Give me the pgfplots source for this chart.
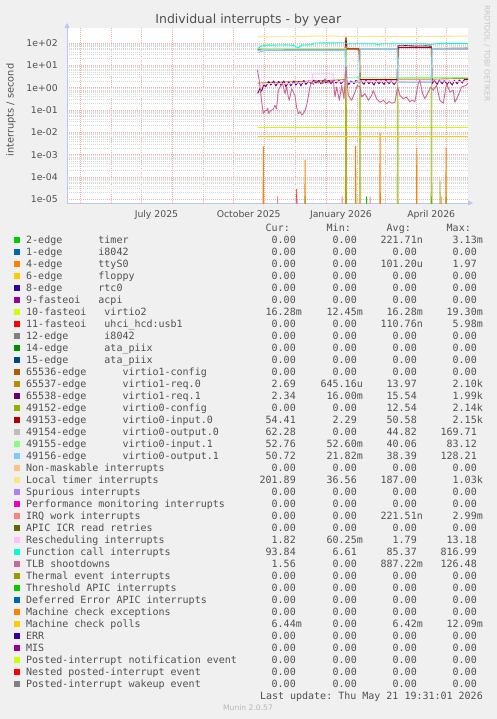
\documentclass[border=0pt]{standalone}
\usepackage{fontspec}
\setmainfont{DejaVu Sans}
\setmonofont{DejaVu Sans Mono}
\usepackage{pgfplots}
\pgfplotsset{compat=1.18}
\usetikzlibrary{arrows.meta}
\definecolor{bgc}{HTML}{F0F0F0}
\definecolor{txt}{HTML}{505050}
\definecolor{axc}{HTML}{B8C8F0}
\definecolor{mgrid}{HTML}{F2B0B0}
\definecolor{ngrid}{HTML}{D8D8D8}
\definecolor{c00CC00}{HTML}{00CC00}
\definecolor{c0066B3}{HTML}{0066B3}
\definecolor{cFF8000}{HTML}{FF8000}
\definecolor{cFFCC00}{HTML}{FFCC00}
\definecolor{c330099}{HTML}{330099}
\definecolor{c990099}{HTML}{990099}
\definecolor{cCCFF00}{HTML}{CCFF00}
\definecolor{cFF0000}{HTML}{FF0000}
\definecolor{c808080}{HTML}{808080}
\definecolor{c008F00}{HTML}{008F00}
\definecolor{c00487D}{HTML}{00487D}
\definecolor{cB35A00}{HTML}{B35A00}
\definecolor{cB38F00}{HTML}{B38F00}
\definecolor{c6B006B}{HTML}{6B006B}
\definecolor{c8FB300}{HTML}{8FB300}
\definecolor{cB30000}{HTML}{B30000}
\definecolor{cBEBEBE}{HTML}{BEBEBE}
\definecolor{c80FF80}{HTML}{80FF80}
\definecolor{c80C9FF}{HTML}{80C9FF}
\definecolor{cFFC080}{HTML}{FFC080}
\definecolor{cFFE680}{HTML}{FFE680}
\definecolor{cAA80FF}{HTML}{AA80FF}
\definecolor{cEE00CC}{HTML}{EE00CC}
\definecolor{cFF8080}{HTML}{FF8080}
\definecolor{c666600}{HTML}{666600}
\definecolor{cFFBFFF}{HTML}{FFBFFF}
\definecolor{c00FFCC}{HTML}{00FFCC}
\definecolor{cCC6699}{HTML}{CC6699}
\definecolor{c999900}{HTML}{999900}
\newcommand\lgf{\fontsize{10bp}{12bp}\ttfamily}
\newcommand\Z{\hphantom{0}}
\newcommand\zz{0.00\Z}
\newcommand\lrow[7]{%
  \pgfmathsetmacro\yc{-(239.7+12*#1)}%
  \pgfmathsetmacro\yb{\yc-3.6}%
  \fill[#2] (14,\yc-3) rectangle (20,\yc+3);
  \node[anchor=base west,inner sep=0,font=\lgf,text=txt] at (26,\yb) {#3};
  \node[anchor=base east,inner sep=0,font=\lgf,text=txt] at (302,\yb) {#4};
  \node[anchor=base east,inner sep=0,font=\lgf,text=txt] at (363,\yb) {#5};
  \node[anchor=base east,inner sep=0,font=\lgf,text=txt] at (423,\yb) {#6};
  \node[anchor=base east,inner sep=0,font=\lgf,text=txt] at (483,\yb) {#7};
}
\begin{document}
\begin{tikzpicture}
\begin{scope}[x=1bp,y=1bp]
\fill[bgc] (0,0) rectangle (497,-719);
\end{scope}
\begin{axis}[
  at={(67bp,-203bp)}, anchor=south west,
  scale only axis, width=401bp, height=175bp,
  xmin=-258.2, xmax=141.7,
  ymode=log, ymin=6.8e-6, ymax=470,
  axis background/.style={fill=white},
  axis x line=bottom, axis y line=left,
  axis line style={draw=axc, line width=0.8bp},
  x axis line style={-{Triangle[length=5bp,width=5bp]}, shorten >=-5bp},
  y axis line style={-{Triangle[length=5bp,width=5bp]}, shorten >=-5bp},
  xtick={-245,-214,-184,-153,-122,-92,-61,-31,0,31,59,90,120},
  xticklabels={},
  minor x tick num=2,
  extra x ticks={-169,-77,15,105},
  extra x tick labels={July 2025,October 2025,January 2026,April 2026},
  extra x tick style={grid=none, xticklabel style={anchor=base, yshift=-12bp}},
  ytick={1e-5,1e-4,1e-3,1e-2,1e-1,1,10,100},
  yticklabels={1e-05,1e-04,1e-03,1e-02,1e-01,1e+00,1e+01,1e+02},
  yticklabel style={anchor=east, inner sep=0pt, xshift=-7bp},
  tick label style={font=\fontsize{9.3bp}{11bp}\selectfont, text=txt},
  grid=both,
  major grid style={draw=mgrid, line width=0.5bp, dash pattern=on 1bp off 1bp},
  minor grid style={draw=ngrid, line width=0.5bp, dash pattern=on 1bp off 1bp},
  tick style={draw=none},
  every axis plot/.append style={line width=0.9bp, line join=round},
  no markers,
]
% 2-edge timer
\addplot[c00CC00] coordinates {(-21.4,1e-9) (-20.8,1.3e-5) (-20.2,1e-9) (39.9,1e-9) (40.5,1.3e-5) (41.1,1e-9) (104.7,1e-9) (105.3,1.3e-5) (105.9,1e-9) (119.2,1e-9) (119.8,1.3e-5) (120.4,1e-9)};
% 4-edge ttyS0
\addplot[cFF8000] coordinates {(-63,1e-9) (-62.4,2.26e-3) (-61.8,1e-9) (-21.4,1e-9) (-20.8,5.7e-4) (-20.2,1e-9) (19.4,1e-9) (20,1.97) (20.6,1e-9) (29.1,1e-9) (29.7,2.4e-3) (30.3,1e-9) (53.4,1e-9) (54,9e-3) (54.6,1e-9) (90,1e-9) (90.6,1.9e-3) (91.2,1e-9) (119.2,1e-9) (119.8,2.0e-3) (120.4,1e-9)};
% 10-fasteoi virtio2
\addplot[cCCFF00] coordinates {(-68,0.0163) (141.7,0.0163)};
% 11-fasteoi uhci
\addplot[cFF0000] coordinates {(-29.7,1e-9) (-29.1,2.8e-5) (-28.5,1e-9)};
% 65537 virtio1-req.0
\addplot[cB38F00] coordinates {(-68,1.6) (-40,1.8) (-10,2.0) (19,2.3) (20,52) (33,52) (34,2.3) (71,2.3) (72,2.4) (105,2.4) (141.7,2.6)};
% 65538 virtio1-req.1
\addplot[c6B006B] coordinates {(-68,0.55) (-66,0.9) (-64,0.7) (-62,1.4) (-60,1.1) (-57,1.9) (-55,1.3) (-52,2.0) (-50,1.2) (-47,1.9) (-45,1.3) (-42,2.0) (-40,1.1) (-37,1.8) (-35,1.2) (-32,2.0) (-30,1.3) (-27,1.9) (-25,1.2) (-22,2.1) (-20,1.4) (-17,2.0) (-15,1.5) (-12,2.2) (-10,1.6) (-7,2.1) (-5,1.5) (-2,2.2) (0,1.6) (3,2.1) (5,1.5) (8,2.2) (10,1.6) (13,2.1) (15,1.5) (18,2.0) (20,1.8) (23,1.4) (25,2.0) (28,1.5) (30,2.1) (33,1.6) (35,2.0) (38,1.4) (40,2.1) (43,1.5) (45,2.0) (48,1.3) (50,2.1) (53,1.5) (55,2.0) (58,1.4) (60,2.1) (63,1.5) (65,2.0) (68,1.4) (71,2.0) (72,75) (80,76) (90,73) (100,74) (105,72) (106,1.5) (108,2.1) (111,1.4) (113,2.2) (116,1.5) (118,2.1) (121,1.4) (123,2.0) (126,1.3) (128,2.1) (131,1.5) (133,2.2) (136,1.6) (138,2.3) (141.7,2.3)};
% 49152 virtio0-config
\addplot[c8FB300, line width=1.3bp, opacity=0.65] coordinates {(19.4,1e-9) (20,58) (20.6,1e-9) (33.4,1e-9) (34,58) (34.6,1e-9) (71,1e-9) (71.6,58) (72.2,1e-9) (104.7,1e-9) (105.3,58) (105.9,1e-9) (113.2,1e-9) (113.8,6.6e-5) (114.4,1e-9)};
% 49153 virtio0-input.0
\addplot[cB30000] coordinates {(-68,50) (19,50) (20,180) (21,56) (33,56) (34,2.3) (71,2.3) (72,62) (105,62) (106,54) (141.7,54)};
% 49154 virtio0-output.0
\addplot[cBEBEBE] coordinates {(-68,45) (-62,52) (19,53) (20,60) (33,60) (34,56) (71,56) (72,1.9) (105,1.9) (106,58) (141.7,62)};
% 49155 virtio0-input.1
\addplot[c80FF80] coordinates {(-68,55) (-62,58) (19,58) (20,2.8) (60,2.7) (100,2.9) (141.7,2.8)};
% 49156 virtio0-output.1
\addplot[c80C9FF] coordinates {(-68,38) (-60,46) (19,47) (20,1.7) (33,1.7) (34,52) (71,52) (72,1.7) (105,1.7) (106,51) (141.7,51)};
% Local timer interrupts
\addplot[cFFE680] coordinates {(-68,188) (-50,190) (-30,192) (-15,203) (10,204) (20,196) (60,197) (100,196) (125,199) (135,205) (141.7,204)};
% IRQ work interrupts
\addplot[cFF8080] coordinates {(-48.7,1e-9) (-48.1,1.3e-5) (-47.5,1e-9) (-29.7,1e-9) (-29.1,1.3e-5) (-28.5,1e-9) (15.5,1e-9) (16.1,1.3e-5) (16.7,1e-9) (43.4,1e-9) (44,1.3e-5) (44.6,1e-9) (114.9,1e-9) (115.5,1.3e-5) (116.1,1e-9)};
% Rescheduling interrupts
\addplot[cFFBFFF] coordinates {(-68,1.2) (-60,1.5) (-50,1.6) (-40,1.5) (-30,1.6) (-20,1.8) (-14,1.9) (-13,4.2) (7,4.2) (8,1.9) (20,1.8) (30,1.8) (50,1.9) (70,1.8) (90,1.9) (110,2.0) (141.7,1.8)};
% Function call interrupts
\addplot[c00FFCC] coordinates {(-68,56) (-65,72) (-60,80) (-40,82) (-32,80) (-30,66) (-27,64) (-24,80) (-14,84) (-12,100) (18,103) (22,92) (30,93) (50,92) (52,82) (55,93) (100,92) (104,84) (108,92) (125,97) (141.7,94)};
% TLB shootdowns
\addplot[cCC6699] coordinates {(-68.4,6.4) (-66.5,2.1) (-64.2,0.27) (-62.5,0.068) (-61,0.09) (-59.2,0.095) (-58,0.12) (-57,0.07) (-55.8,0.085) (-54,0.1) (-52.5,0.11) (-50.8,0.16) (-49.2,0.11) (-47.5,0.76) (-45.8,1.07) (-43.2,1.5) (-40.8,0.54) (-39.2,1.07) (-37.5,0.38) (-36.5,0.27) (-34.2,0.9) (-30.9,0.45) (-29.2,0.13) (-27.5,0.07) (-25.9,0.085) (-24,0.06) (-22.5,0.068) (-20.9,0.095) (-19.2,0.16) (-15.9,1.07) (-14.2,1.78) (-12.5,1.4) (-10.9,2.1) (-8,1.6) (-5.9,1.78) (-3,1.5) (-0.9,2.5) (2,1.6) (4.1,1.78) (7.4,2.1) (9.1,0.38) (10.7,1.07) (13.4,0.27) (15.7,1.26) (18.0,0.32) (20.0,9) (22.3,0.45) (25.6,0.27) (29.0,0.63) (31.3,1.26) (33.9,1.07) (35.6,0.38) (38.9,0.54) (42.3,0.27) (45.6,0.45) (47.2,0.76) (50.5,0.32) (53.9,0.22) (57.2,0.27) (60.5,0.19) (63,0.24) (65.5,0.2) (68.8,0.22) (71.5,1.07) (73.8,0.45) (77.1,0.32) (80.4,0.38) (83.7,0.23) (86,0.28) (88.7,0.23) (92.0,1.5) (93.7,2.1) (96.4,0.54) (98.7,0.32) (102.0,0.63) (104.7,1.07) (107.0,0.76) (110.3,1.26) (113.7,0.27) (117.0,0.2) (120.3,1.5) (123.7,0.63) (127.0,0.76) (128.6,0.22) (132.0,0.45) (135.3,1.07) (139.7,1.26) (141.7,1.56)};
% Machine check polls
\addplot[cFFCC00] coordinates {(-68,0.0064) (141.7,0.0064)};
\end{axis}
\begin{scope}[x=1bp,y=1bp]
\node[anchor=base,inner sep=0,font=\fontsize{12.5bp}{14bp}\selectfont,text=txt] at (248.3,-23.5) {Individual interrupts - by year};
\node[rotate=90,inner sep=0,font=\fontsize{9.8bp}{11bp}\selectfont,text=txt] at (11,-110) {interrupts / second};
\node[rotate=-90,inner sep=0,font=\fontsize{7.5bp}{9bp}\selectfont,text=black!22] at (487,-53.3) {RRDTOOL / TOBI OETIKER};
\node[inner sep=0,font=\fontsize{7.6bp}{9bp}\selectfont,text=black!28] at (248,-707.5) {Munin 2.0.57};
\node[anchor=base east,inner sep=0,font=\lgf,text=txt] at (290,-231.3) {Cur:};
\node[anchor=base east,inner sep=0,font=\lgf,text=txt] at (351,-231.3) {Min:};
\node[anchor=base east,inner sep=0,font=\lgf,text=txt] at (411,-231.3) {Avg:};
\node[anchor=base east,inner sep=0,font=\lgf,text=txt] at (471,-231.3) {Max:};
\lrow{0}{c00CC00}{2-edge~~~~~~timer}{\zz}{\zz}{221.71n}{3.13m}
\lrow{1}{c0066B3}{1-edge~~~~~~i8042}{\zz}{\zz}{\zz}{\zz}
\lrow{2}{cFF8000}{4-edge~~~~~~ttyS0}{\zz}{\zz}{101.20u}{1.97\Z}
\lrow{3}{cFFCC00}{6-edge~~~~~~floppy}{\zz}{\zz}{\zz}{\zz}
\lrow{4}{c330099}{8-edge~~~~~~rtc0}{\zz}{\zz}{\zz}{\zz}
\lrow{5}{c990099}{9-fasteoi~~~acpi}{\zz}{\zz}{\zz}{\zz}
\lrow{6}{cCCFF00}{10-fasteoi~~~virtio2}{16.28m}{12.45m}{16.28m}{19.30m}
\lrow{7}{cFF0000}{11-fasteoi~~~uhci\_hcd:usb1}{\zz}{\zz}{110.76n}{5.98m}
\lrow{8}{c808080}{12-edge~~~~~~i8042}{\zz}{\zz}{\zz}{\zz}
\lrow{9}{c008F00}{14-edge~~~~~~ata\_piix}{\zz}{\zz}{\zz}{\zz}
\lrow{10}{c00487D}{15-edge~~~~~~ata\_piix}{\zz}{\zz}{\zz}{\zz}
\lrow{11}{cB35A00}{65536-edge~~~~~~virtio1-config}{\zz}{\zz}{\zz}{\zz}
\lrow{12}{cB38F00}{65537-edge~~~~~~virtio1-req.0}{2.69\Z}{645.16u}{13.97\Z}{2.10k}
\lrow{13}{c6B006B}{65538-edge~~~~~~virtio1-req.1}{2.34\Z}{16.00m}{15.54\Z}{1.99k}
\lrow{14}{c8FB300}{49152-edge~~~~~~virtio0-config}{\zz}{\zz}{12.54\Z}{2.14k}
\lrow{15}{cB30000}{49153-edge~~~~~~virtio0-input.0}{54.41\Z}{2.29\Z}{50.58\Z}{2.15k}
\lrow{16}{cBEBEBE}{49154-edge~~~~~~virtio0-output.0}{62.28\Z}{\zz}{44.82\Z}{169.71\Z}
\lrow{17}{c80FF80}{49155-edge~~~~~~virtio0-input.1}{52.76\Z}{52.60m}{40.06\Z}{83.12\Z}
\lrow{18}{c80C9FF}{49156-edge~~~~~~virtio0-output.1}{50.72\Z}{21.82m}{38.39\Z}{128.21\Z}
\lrow{19}{cFFC080}{Non-maskable interrupts}{\zz}{\zz}{\zz}{\zz}
\lrow{20}{cFFE680}{Local timer interrupts}{201.89\Z}{36.56\Z}{187.00\Z}{1.03k}
\lrow{21}{cAA80FF}{Spurious interrupts}{\zz}{\zz}{\zz}{\zz}
\lrow{22}{cEE00CC}{Performance monitoring interrupts}{\zz}{\zz}{\zz}{\zz}
\lrow{23}{cFF8080}{IRQ work interrupts}{\zz}{\zz}{221.51n}{2.99m}
\lrow{24}{c666600}{APIC ICR read retries}{\zz}{\zz}{\zz}{\zz}
\lrow{25}{cFFBFFF}{Rescheduling interrupts}{1.82\Z}{60.25m}{1.79\Z}{13.18\Z}
\lrow{26}{c00FFCC}{Function call interrupts}{93.84\Z}{6.61\Z}{85.37\Z}{816.99\Z}
\lrow{27}{cCC6699}{TLB shootdowns}{1.56\Z}{\zz}{887.22m}{126.48\Z}
\lrow{28}{c999900}{Thermal event interrupts}{\zz}{\zz}{\zz}{\zz}
\lrow{29}{c00CC00}{Threshold APIC interrupts}{\zz}{\zz}{\zz}{\zz}
\lrow{30}{c0066B3}{Deferred Error APIC interrupts}{\zz}{\zz}{\zz}{\zz}
\lrow{31}{cFF8000}{Machine check exceptions}{\zz}{\zz}{\zz}{\zz}
\lrow{32}{cFFCC00}{Machine check polls}{6.44m}{\zz}{6.42m}{12.09m}
\lrow{33}{c330099}{ERR}{\zz}{\zz}{\zz}{\zz}
\lrow{34}{c990099}{MIS}{\zz}{\zz}{\zz}{\zz}
\lrow{35}{cCCFF00}{Posted-interrupt notification event}{\zz}{\zz}{\zz}{\zz}
\lrow{36}{cFF0000}{Nested posted-interrupt event}{\zz}{\zz}{\zz}{\zz}
\lrow{37}{c808080}{Posted-interrupt wakeup event}{\zz}{\zz}{\zz}{\zz}
\node[anchor=base east,inner sep=0,font=\lgf,text=txt] at (483,-699.3) {Last update: Thu May 21 19:31:01 2026};
\end{scope}
\end{tikzpicture}
\end{document}
